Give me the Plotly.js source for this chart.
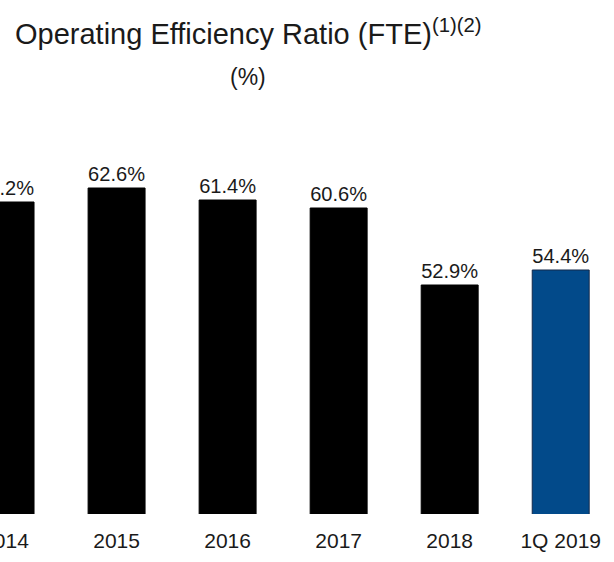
<!DOCTYPE html>
<html>
<head>
<meta charset="utf-8">
<script src="https://cdn.plot.ly/plotly-3.0.1.min.js"></script>
<style>html,body{margin:0;padding:0;background:#fff;}#chart{width:614px;height:562px;}</style>
</head>
<body>
<div id="chart"></div>
<script>
const categories = ["2014", "2015", "2016", "2017", "2018", "1Q 2019"];
const ratioValues = [61.2, 62.6, 61.4, 60.6, 52.9, 54.4];
const valueLabels = ["61.2%", "62.6%", "61.4%", "60.6%", "52.9%", "54.4%"];
const barColors = ["#000000", "#000000", "#000000", "#000000", "#000000", "#024a8a"];
const lineColors = ["#000000", "#000000", "#000000", "#000000", "#000000", "#13294b"];

const FONT = "'Liberation Sans Narrow', 'Arial Narrow', 'Liberation Sans', Arial, sans-serif";

const trace = {
  type: "bar",
  x: categories,
  y: ratioValues,
  text: valueLabels,
  textposition: "outside",
  textfont: {family: FONT, size: 21, color: "#1a1a1a"},
  marker: {color: barColors, line: {color: lineColors, width: 1}},
  hoverinfo: "none",
  cliponaxis: true
};

const layout = {
  width: 614,
  height: 562,
  margin: {l: 0, r: 0, t: 100, b: 48, pad: 0},
  paper_bgcolor: "#ffffff",
  plot_bgcolor: "#ffffff",
  showlegend: false,
  bargap: 0.487,
  xaxis: {
    type: "category",
    range: [-0.05, 5.48],
    showgrid: false,
    zeroline: false,
    showline: false,
    ticks: "",
    tickfont: {family: FONT, size: 21, color: "#1a1a1a"},
    ticklabelstandoff: 12,
    fixedrange: true
  },
  yaxis: {
    range: [30, 71.4],
    visible: false,
    fixedrange: true
  },
  annotations: [
    {
      xref: "paper", yref: "paper", x: 0.404, y: 1.165,
      xanchor: "center", yanchor: "middle", showarrow: false,
      text: "Operating Efficiency Ratio (FTE)<sup>(1)(2)</sup>",
      font: {family: FONT, size: 29, color: "#1a1a1a"}
    },
    {
      xref: "paper", yref: "paper", x: 0.404, y: 1.055,
      xanchor: "center", yanchor: "middle", showarrow: false,
      text: "(%)",
      font: {family: FONT, size: 23, color: "#1a1a1a"}
    }
  ]
};

Plotly.newPlot("chart", [trace], layout, {displayModeBar: false, staticPlot: true});
</script>
</body>
</html>
